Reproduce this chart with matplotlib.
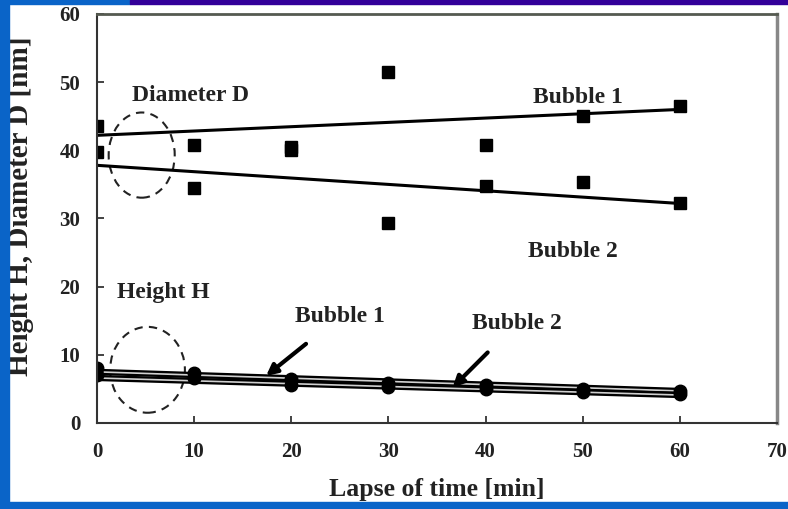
import numpy as np
import matplotlib
matplotlib.use('Agg')
import matplotlib.pyplot as plt
from matplotlib.patches import Ellipse, Rectangle

plt.rcParams['font.family'] = ['Liberation Serif', 'DejaVu Serif']
plt.rcParams['font.weight'] = 'bold'

# lapse of time [min]
t = [0, 10, 20, 30, 40, 50, 60]

# diameter D [nm]
d_bubble1 = [43.5, 40.8, 40.5, 51.5, 40.8, 45.0, 46.5]
d_bubble2 = [39.8, 34.5, 40.0, 29.3, 34.8, 35.3, 32.3]
# height H [nm]
h_bubble1 = [8.0, 7.3, 6.4, 5.8, 5.5, 5.0, 4.7]
h_bubble2 = [7.0, 6.6, 5.6, 5.3, 5.0, 4.6, 4.3]

# trend lines (end points at t=0 and t=60)
t_fit = [0, 60]
d_fit1 = [42.2, 46.0]
d_fit2 = [37.8, 32.2]
h_fit1 = [7.5, 4.7]
h_fit2 = [6.6, 4.1]

fig = plt.figure(figsize=(7.88, 5.09), dpi=100)
fig.patch.set_facecolor('white')

# blue slide frame
fig.patches.append(Rectangle((0, 0), 0.011, 1, transform=fig.transFigure,
                             color='#0a64c8', zorder=0))
fig.patches.append(Rectangle((0, 0), 1, 0.014, transform=fig.transFigure,
                             color='#0a64c8', zorder=0))
fig.patches.append(Rectangle((0, 0.993), 0.165, 0.007, transform=fig.transFigure,
                             color='#0a64c8', zorder=0))
fig.patches.append(Rectangle((0.165, 0.993), 0.835, 0.007, transform=fig.transFigure,
                             color='#330099', zorder=0))

ax = fig.add_axes([0.1231, 0.169, 0.863, 0.8035])

# diameter
ax.plot(t, d_bubble1, 's', color='black', ms=8)
ax.plot(t, d_bubble2, 's', color='black', ms=8)
ax.plot(t_fit, d_fit1, '-', color='black', lw=2.2)
ax.plot(t_fit, d_fit2, '-', color='black', lw=2.2)

# height (double-stroke lines)
for hf in (h_fit1, h_fit2):
    ax.plot(t_fit, hf, '-', color='black', lw=4.5, solid_capstyle='butt')
    ax.plot(t_fit, hf, '-', color='#d0d0d0', lw=1.2, solid_capstyle='butt')
ax.plot(t, h_bubble1, 'o', color='black', ms=9)
ax.plot(t, h_bubble2, 'o', color='black', ms=9)

# dashed circles
ax.add_patch(Ellipse((4.6, 39.3), 6.8, 12.5, fill=False, ls=(0, (4, 3)),
                     lw=1.5, color='#222222'))
ax.add_patch(Ellipse((5.2, 7.8), 7.7, 12.6, fill=False, ls=(0, (4, 3)),
                     lw=1.5, color='#222222'))

fs = 17
tc = '#222222'
ax.text(9.6, 48.1, 'Diameter D', fontsize=fs, ha='center', va='center', color=tc)
ax.text(49.5, 47.8, 'Bubble 1', fontsize=fs, ha='center', va='center', color=tc)
ax.text(49.0, 25.2, 'Bubble 2', fontsize=fs, ha='center', va='center', color=tc)
ax.text(6.8, 19.1, 'Height H', fontsize=fs, ha='center', va='center', color=tc)
ax.annotate('Bubble 1', xy=(17.4, 6.9), xytext=(25.0, 15.6), fontsize=fs,
            ha='center', va='center', color=tc,
            arrowprops=dict(arrowstyle='-|>', color='black', lw=3,
                            shrinkA=16, shrinkB=0, mutation_scale=16))
ax.annotate('Bubble 2', xy=(36.6, 5.2), xytext=(43.2, 14.6), fontsize=fs,
            ha='center', va='center', color=tc,
            arrowprops=dict(arrowstyle='-|>', color='black', lw=3,
                            shrinkA=16, shrinkB=0, mutation_scale=16))

ax.set_xlim(0, 70)
ax.set_ylim(0, 60)
ax.set_xticks(range(0, 71, 10))
ax.set_yticks(range(0, 61, 10))
ax.tick_params(direction='in', length=5, width=1.2, labelsize=15, colors='#222222')
ax.tick_params(axis='x', pad=14)
ax.tick_params(axis='y', pad=12)
for lab in ax.get_xticklabels() + ax.get_yticklabels():
    lab.set_fontweight('bold')
for side in ['left', 'bottom']:
    ax.spines[side].set_linewidth(1.5)
    ax.spines[side].set_color('#333333')
ax.spines['top'].set_linewidth(2)
ax.spines['top'].set_color('#555a50')
ax.spines['right'].set_linewidth(2.5)
ax.spines['right'].set_color('#888888')

ax.set_xlabel('Lapse of time [min]', fontsize=18.5, fontweight='bold',
              labelpad=11, color='#222222')
ax.set_ylabel('Height H, Diameter D [nm]', fontsize=21, fontweight='bold',
              color='#222222')
ax.yaxis.set_label_coords(-0.093, 0.53)

plt.savefig('out.png', dpi=100)
